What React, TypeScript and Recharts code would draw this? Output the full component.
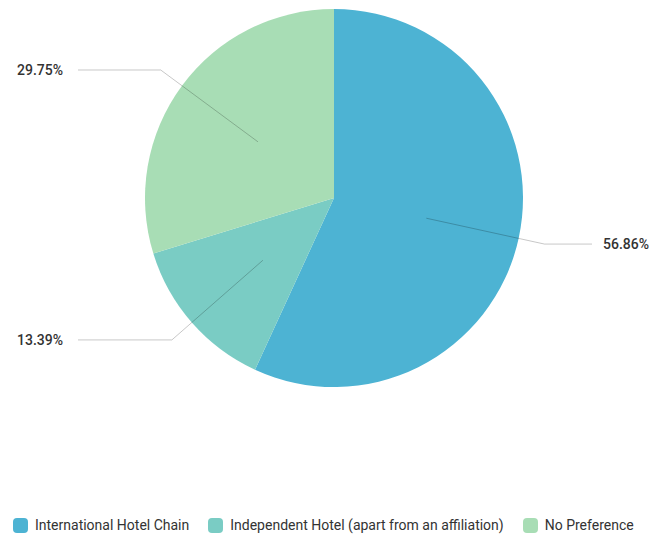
import React from 'react';
import {PieChart, Pie, Cell, Legend} from 'recharts';

const categories = ['International Hotel Chain', 'Independent Hotel (apart from an affiliation)', 'No Preference'];
const shares = [56.86, 13.39, 29.75];
const colors = ['#4DB3D3', '#7ACCC4', '#A8DDB5'];

const data = categories.map((name, i) => ({name, value: shares[i]}));

const RADIAN = Math.PI / 180;

function renderLabel(props: any) {
	const {cx, cy, midAngle, outerRadius, value} = props;
	const cos = Math.cos(-midAngle * RADIAN);
	const sin = Math.sin(-midAngle * RADIAN);
	const sx = cx + outerRadius * 0.5 * cos;
	const sy = cy + outerRadius * 0.5 * sin;
	const mx = cx + outerRadius * 1.14 * cos;
	const my = cy + outerRadius * 1.14 * sin;
	const right = cos >= 0;
	const ex = right ? cx + 258 : cx - 256;
	const tx = right ? cx + 269 : cx - 271;
	return (
		<g>
			<polyline points={`${sx},${sy} ${mx},${my} ${ex},${my}`} fill='none' stroke='#000' strokeOpacity={0.22} strokeWidth={1}/>
			<text x={tx} y={my} textAnchor={right ? 'start' : 'end'} dominantBaseline='central' fill='#333' fontSize={14} fontWeight={500}>
				{value.toFixed(2)}%
			</text>
		</g>
	);
}

// legend drawn from the arrays so order matches the slices
function renderLegend() {
	return (
		<div style={{display: 'flex', alignItems: 'center', paddingLeft: 13}}>
			{categories.map((name, i) => (
				<div key={name} style={{display: 'flex', alignItems: 'center', marginRight: 19}}>
					<span style={{display: 'inline-block', width: 15, height: 15, borderRadius: 4, background: colors[i], marginRight: 7}}/>
					<span style={{fontSize: 14, color: '#333'}}>{name}</span>
				</div>
			))}
		</div>
	);
}

export default function App() {
	return (
		<div style={{position: 'absolute', left: 0, top: 0, fontFamily: 'Roboto, sans-serif'}}>
			<PieChart width={655} height={534} margin={{top: 0, right: 0, bottom: 0, left: 0}}>
				<Pie
					data={data}
					dataKey='value'
					nameKey='name'
					cx={334}
					cy={198}
					outerRadius={189}
					startAngle={90}
					endAngle={-270}
					stroke='none'
					label={renderLabel}
					labelLine={false}
					isAnimationActive={false}
				>
					{data.map((d, i) => (
						<Cell key={d.name} fill={colors[i]}/>
					))}
				</Pie>
				<Legend content={renderLegend} verticalAlign='bottom' wrapperStyle={{bottom: 1, left: 0, width: 655}}/>
			</PieChart>
		</div>
	);
}
